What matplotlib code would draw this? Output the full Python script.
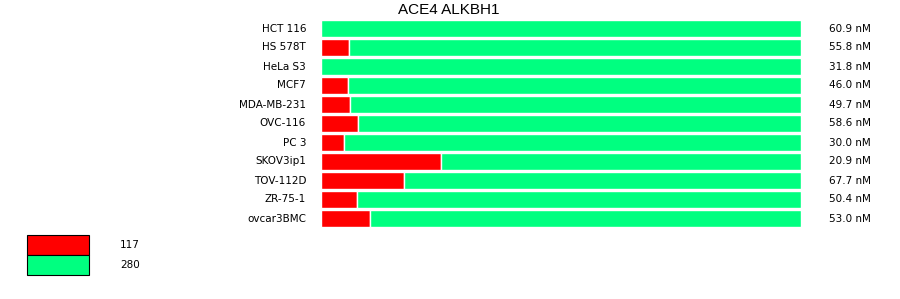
import matplotlib
matplotlib.use("Agg")
import matplotlib.pyplot as plt
from matplotlib.patches import Rectangle

cell_lines = ["HCT 116", "HS 578T", "HeLa S3", "MCF7", "MDA-MB-231", "OVC-116",
              "PC 3", "SKOV3ip1", "TOV-112D", "ZR-75-1", "ovcar3BMC"]
red_pct = [0.0, 5.8, 0.0, 5.6, 6.0, 7.7, 4.8, 25.0, 17.3, 7.5, 10.2]
conc_nM = [60.9, 55.8, 31.8, 46.0, 49.7, 58.6, 30.0, 20.9, 67.7, 50.4, 53.0]
legend_counts = [117, 280]

RED = "#ff0000"
GREEN = "#00ff80"

fig = plt.figure(figsize=(9, 2.99), dpi=100)
W, H = 900, 299
ax = fig.add_axes([321 / W, 1 - 228 / H, 480 / W, 209 / H])

n = len(cell_lines)
y = list(range(n))
green_pct = [100 - r for r in red_pct]
ax.barh(y, red_pct, height=17 / 19, color=RED, edgecolor="white", linewidth=1.0)
ax.barh(y, green_pct, left=red_pct, height=17 / 19, color=GREEN,
        edgecolor="white", linewidth=1.0)
ax.set_xlim(0, 100)
ax.set_ylim(n - 0.5, -0.5)
ax.axis("off")

for i, (name, c) in enumerate(zip(cell_lines, conc_nM)):
    ax.text(-0.031, i, name, transform=ax.get_yaxis_transform(), ha="right",
            va="center", fontsize=7.5, family="DejaVu Sans")
    ax.text(1.058, i, f"{c:.1f} nM", transform=ax.get_yaxis_transform(),
            ha="left", va="center", fontsize=7.5, family="DejaVu Sans")

fig.text(449 / W, 1 - 10 / H, "ACE4 ALKBH1", ha="center", va="center",
         fontsize=11, family="Liberation Sans")

# legend
for k, (col, cnt) in enumerate(zip([RED, GREEN], legend_counts)):
    y0 = 235 + k * 20
    fig.patches.append(Rectangle((27 / W, 1 - (y0 + 20) / H), 62 / W, 20 / H,
                                 transform=fig.transFigure, facecolor=col,
                                 edgecolor="black", linewidth=0.8))
    fig.text(120 / W, 1 - (y0 + 10) / H, str(cnt), ha="left", va="center",
             fontsize=7.5, family="DejaVu Sans")

fig.savefig("out.png", dpi=100, facecolor="white")
